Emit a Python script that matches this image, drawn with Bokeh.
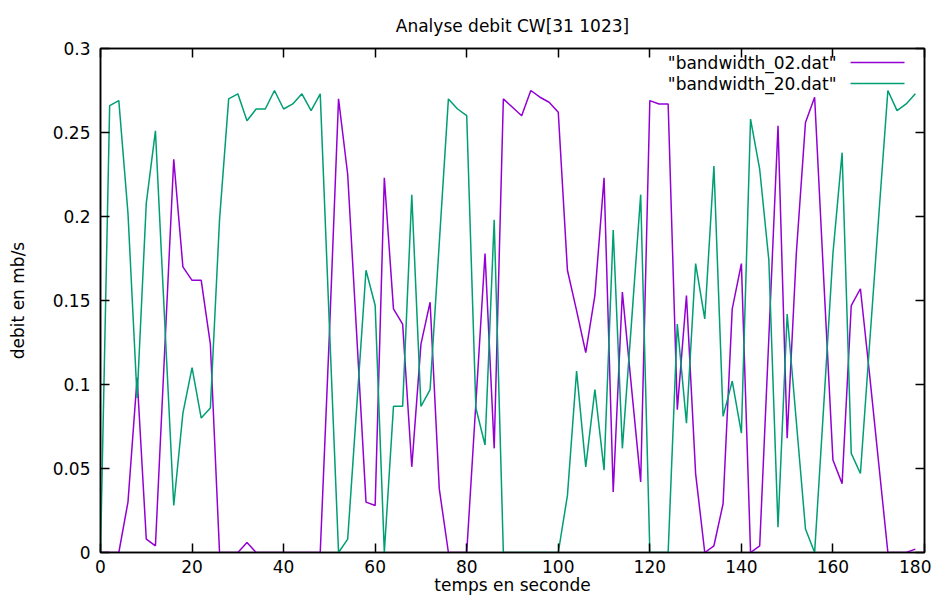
from bokeh.plotting import figure
from bokeh.models import Range1d, FixedTicker, LinearAxis, Label, BoxAnnotation
from bokeh.embed import file_html
from bokeh.resources import INLINE

FONT = "DejaVu Sans"

time_s = list(range(0, 179, 2))

bw02 = [0, 0, 0, 0.030, 0.104, 0.008, 0.004, 0.119, 0.234, 0.170,
        0.162, 0.162, 0.124, 0, 0, 0, 0.006, 0, 0, 0,
        0, 0, 0, 0, 0, 0.130, 0.270, 0.225, 0.128, 0.030,
        0.028, 0.223, 0.145, 0.136, 0.051, 0.124, 0.149, 0.038, 0, 0,
        0, 0.089, 0.178, 0.062, 0.270, 0.265, 0.260, 0.275, 0.271, 0.268,
        0.262, 0.168, 0.144, 0.119, 0.153, 0.223, 0.036, 0.155, 0.098, 0.042,
        0.269, 0.267, 0.267, 0.085, 0.153, 0.047, 0, 0.004, 0.029, 0.145,
        0.172, 0, 0.004, 0.128, 0.254, 0.068, 0.178, 0.256, 0.271, 0.162,
        0.055, 0.041, 0.147, 0.157, 0.106, 0.053, 0, 0, 0, 0.002]

bw20 = [0, 0.266, 0.269, 0.202, 0.092, 0.208, 0.251, 0.139, 0.028, 0.083,
        0.110, 0.080, 0.086, 0.198, 0.270, 0.273, 0.257, 0.264, 0.264, 0.275,
        0.264, 0.267, 0.273, 0.263, 0.273, 0.135, 0, 0.008, 0.088, 0.168,
        0.147, 0, 0.087, 0.087, 0.213, 0.087, 0.097, 0.184, 0.270, 0.264,
        0.260, 0.086, 0.064, 0.198, 0, 0, 0, 0, 0, 0,
        0, 0.034, 0.108, 0.051, 0.097, 0.049, 0.192, 0.062, 0.137, 0.213,
        0, 0, 0, 0.136, 0.077, 0.172, 0.139, 0.230, 0.081, 0.102,
        0.071, 0.258, 0.228, 0.174, 0.015, 0.142, 0.078, 0.014, 0, 0.088,
        0.178, 0.238, 0.059, 0.047, 0.124, 0.200, 0.275, 0.263, 0.267, 0.273]

x_ticks = [0, 20, 40, 60, 80, 100, 120, 140, 160, 180]
y_ticks = [0, 0.05, 0.1, 0.15, 0.2, 0.25, 0.3]
y_tick_labels = ["0", "0.05", "0.1", "0.15", "0.2", "0.25", "0.3"]
series_labels = ['"bandwidth_02.dat"', '"bandwidth_20.dat"']
series_colors = ["#9400d3", "#009e73"]

p = figure(width=931, height=597,
           x_range=Range1d(0, 180), y_range=Range1d(0, 0.3),
           output_backend="svg", toolbar_location=None,
           min_border_left=100, min_border_right=7,
           min_border_top=48, min_border_bottom=45)

p.title.text = "Analyse debit CW[31 1023]"
p.title.align = "center"
p.title.text_font = FONT
p.title.text_font_size = "17px"
p.title.text_font_style = "normal"
p.title.text_color = "black"
p.title.standoff = 25

p.xgrid.visible = False
p.ygrid.visible = False
p.outline_line_color = "black"
p.outline_line_width = 1.5
p.background_fill_color = "white"
p.border_fill_color = "white"

for s, col in zip([bw02, bw20], series_colors):
    p.line(time_s, s, line_color=col, line_width=1.5)


def style_axis(ax):
    ax.major_tick_in = 9
    ax.major_tick_out = 0
    ax.minor_tick_in = 0
    ax.minor_tick_out = 0
    ax.major_tick_line_color = "black"
    ax.major_tick_line_width = 1.5
    ax.axis_line_color = "black"
    ax.axis_line_width = 1.5
    ax.major_label_text_font = FONT
    ax.major_label_text_font_size = "17px"
    ax.major_label_text_color = "black"
    ax.axis_label_text_font = FONT
    ax.axis_label_text_font_size = "17px"
    ax.axis_label_text_font_style = "normal"
    ax.axis_label_text_color = "black"


xa = p.xaxis[0]
xa.ticker = FixedTicker(ticks=x_ticks)
xa.axis_label = "temps en seconde"
style_axis(xa)
xa.major_label_standoff = 7
xa.axis_label_standoff = -1

ya = p.yaxis[0]
ya.ticker = FixedTicker(ticks=y_ticks)
ya.major_label_overrides = {t: l for t, l in zip(y_ticks, y_tick_labels)}
ya.axis_label = "debit en mb/s"
style_axis(ya)
ya.major_label_standoff = 10
ya.axis_label_standoff = 22

top = LinearAxis(ticker=FixedTicker(ticks=x_ticks),
                 major_label_overrides={t: "" for t in x_ticks})
style_axis(top)
top.major_label_standoff = 0
p.add_layout(top, "above")

right = LinearAxis(ticker=FixedTicker(ticks=y_ticks),
                   major_label_overrides={t: "" for t in y_ticks})
style_axis(right)
right.major_label_standoff = 0
p.add_layout(right, "right")

# gnuplot-style key: text, then line sample
key_rows_y = [490, 469]
for lbl, col, yy in zip(series_labels, series_colors, key_rows_y):
    p.add_layout(Label(x=736, y=yy, x_units="screen", y_units="screen",
                       text=lbl, text_align="right", text_baseline="middle",
                       text_font=FONT, text_font_size="17px", text_color="black"))
    p.add_layout(BoxAnnotation(left=750, right=804, bottom=yy - 0.75, top=yy + 0.75,
                               left_units="screen", right_units="screen",
                               bottom_units="screen", top_units="screen",
                               fill_color=col, fill_alpha=1.0, line_color=None))

open("out.html", "w").write(file_html(p, INLINE))
